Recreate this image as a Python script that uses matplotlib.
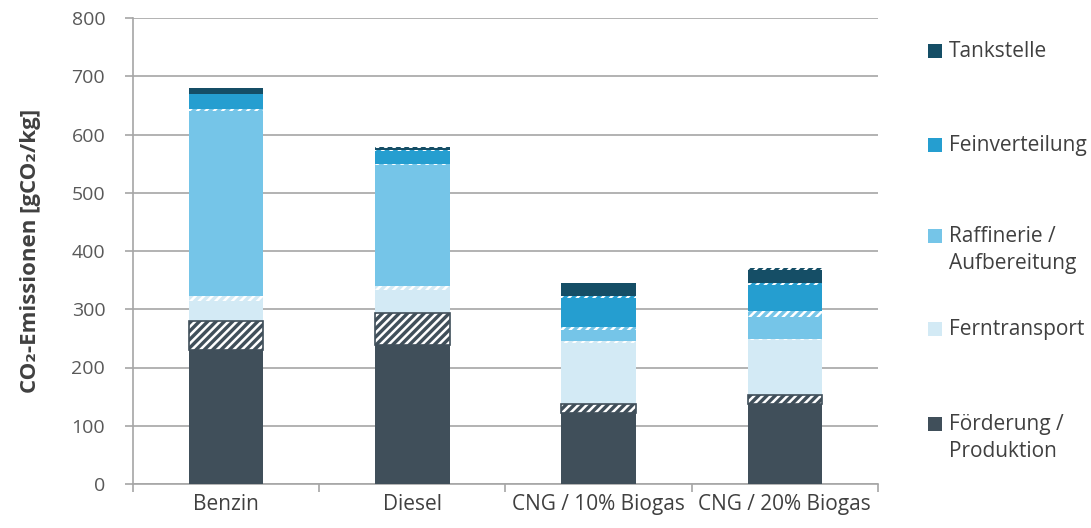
import matplotlib
matplotlib.use("Agg")
import matplotlib.pyplot as plt
from matplotlib.patches import Rectangle
import numpy as np

plt.rcParams['font.family'] = ['Open Sans', 'DejaVu Sans']
plt.rcParams['hatch.linewidth'] = 1.8

fuels = ['Benzin', 'Diesel', 'CNG / 10% Biogas', 'CNG / 20% Biogas']

# bottom-up stages: solid part and hatched (range) part, gCO2/kg
stages = ['Förderung /\nProduktion', 'Ferntransport', 'Raffinerie /\nAufbereitung',
          'Feinverteilung', 'Tankstelle']
foerderung = [230, 238, 122, 137]
foerderung_h = [49, 55, 15, 16]
ferntransport = [36, 40, 105, 94]
ferntransport_h = [8, 7, 3, 2]
raffinerie = [317, 207, 20, 38]
raffinerie_h = [4, 3, 5, 10]
feinverteilung = [26, 22, 49, 45]
feinverteilung_h = [0, 2, 3, 3]
tankstelle = [10, 3, 23, 22]
tankstelle_h = [0, 1, 0, 4]

colors = ['#404f5a', '#d3eaf5', '#75c5e8', '#259ed0', '#154e66']

solid = [foerderung, ferntransport, raffinerie, feinverteilung, tankstelle]
hatched = [foerderung_h, ferntransport_h, raffinerie_h, feinverteilung_h, tankstelle_h]

fig = plt.figure(figsize=(10.91, 5.28), dpi=100)
ax = fig.add_axes([133 / 1091, 1 - 484 / 528, 745 / 1091, 466 / 528])

x = np.arange(len(fuels))
width = 0.40
bottom = np.zeros(len(fuels))
for s, h, c in zip(solid, hatched, colors):
    s = np.array(s, dtype=float)
    h = np.array(h, dtype=float)
    ax.bar(x, s, width, bottom=bottom, color=c, linewidth=0, zorder=3)
    bottom += s
    ax.bar(x, h, width, bottom=bottom, color=c, edgecolor='white', hatch='////',
           linewidth=0, zorder=3)
    if c == colors[0]:
        ax.bar(x, h, width, bottom=bottom, fill=False, edgecolor=c, linewidth=1.2, zorder=4)
    bottom += h

ax.set_ylim(0, 800)
ax.set_xlim(-0.5, 3.5)
ax.set_yticks(np.arange(0, 801, 100))
ax.yaxis.grid(True, color='#a6a6a6', linewidth=1.2, zorder=0)
ax.set_axisbelow(True)
for side in ['top', 'right']:
    ax.spines[side].set_visible(False)
for side in ['left', 'bottom']:
    ax.spines[side].set_color('#a6a6a6')
    ax.spines[side].set_linewidth(1.2)
ax.set_xticks(x)
ax.set_xticklabels(fuels, fontsize=15, color='#404040')
ax.tick_params(axis='x', length=0, pad=7)
ax.set_xticks(np.arange(-0.5, 4.0, 1.0), minor=True)
ax.tick_params(axis='x', which='minor', length=6, color='#a6a6a6', width=1.2)
ax.tick_params(axis='y', labelsize=14, labelcolor='#595959', length=6,
               color='#a6a6a6', width=1.2, pad=14)
ax.set_ylabel('CO₂-Emissionen [gCO₂/kg]', fontsize=16, fontweight='bold',
              color='#404040', labelpad=22)

# legend on the right, top to bottom
leg_y = [51, 145, 236, 329, 424]
for i, (name, c) in enumerate(zip(stages[::-1], colors[::-1])):
    py = leg_y[i]
    fig.patches.append(Rectangle((928 / 1091, 1 - (py + 7) / 528), 14 / 1091, 14 / 528,
                                 transform=fig.transFigure, facecolor=c, edgecolor='none'))
    fig.text(949 / 1091, 1 - (py - 10) / 528, name, fontsize=15, va='top', ha='left',
             linespacing=1.35, color='#404040')

fig.savefig('out.png', dpi=100)
